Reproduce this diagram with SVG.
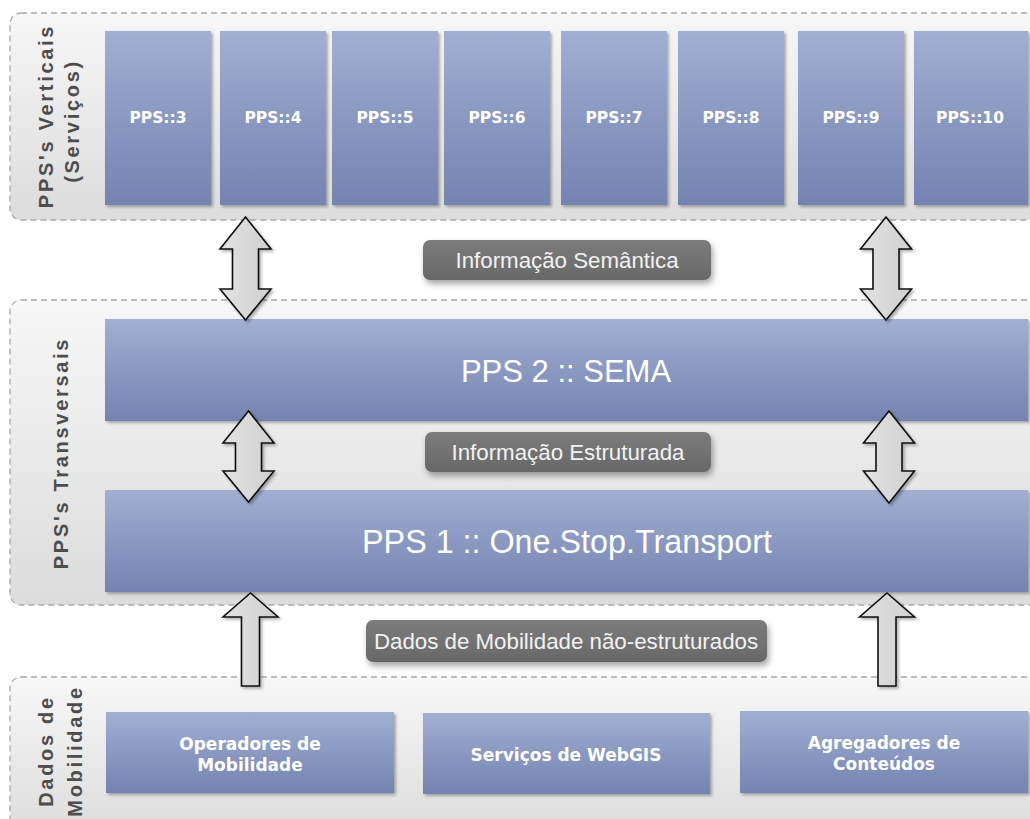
<svg xmlns="http://www.w3.org/2000/svg" width="1030" height="819" viewBox="0 0 1030 819">
  <defs>
    <linearGradient id="gBand" x1="0" y1="0" x2="0" y2="1">
      <stop offset="0" stop-color="#f7f7f7"/>
      <stop offset="1" stop-color="#dcdcdc"/>
    </linearGradient>
    <linearGradient id="gBox" x1="0" y1="0" x2="0" y2="1">
      <stop offset="0" stop-color="#a1afd3"/>
      <stop offset="1" stop-color="#7483b0"/>
    </linearGradient>
    <linearGradient id="gPill" x1="0" y1="0" x2="0" y2="1">
      <stop offset="0" stop-color="#7c7c7c"/>
      <stop offset="1" stop-color="#686868"/>
    </linearGradient>
    <linearGradient id="gArrow" x1="0" y1="0" x2="1" y2="0">
      <stop offset="0" stop-color="#e2e2e2"/>
      <stop offset="1" stop-color="#d0d0d0"/>
    </linearGradient>
    <filter id="shadow" x="-10%" y="-10%" width="130%" height="130%">
      <feDropShadow dx="2" dy="2" stdDeviation="1.5" flood-color="#000" flood-opacity="0.3"/>
    </filter>
    <filter id="pillShadow" x="-10%" y="-20%" width="130%" height="160%">
      <feDropShadow dx="2" dy="4" stdDeviation="3" flood-color="#000" flood-opacity="0.35"/>
    </filter>
  </defs>
  <style>
    .band { fill: url(#gBand); stroke: #a8a8a8; stroke-width: 1.3; stroke-dasharray: 6 4; }
    .box { fill: url(#gBox); filter: url(#shadow); }
    .pill { fill: url(#gPill); filter: url(#pillShadow); }
    .arrow { fill: url(#gArrow); stroke: #111; stroke-width: 1.6; stroke-linejoin: miter; filter: url(#shadow); }
    .bandLabel { font-family: "Liberation Sans", Arial, sans-serif; font-weight: bold; font-size: 20px; fill: #4d4d4d; letter-spacing: 2.7px; text-anchor: middle; }
    .small { font-family: "DejaVu Sans", Verdana, sans-serif; font-weight: bold; font-size: 15.5px; fill: #fff; text-anchor: middle; }
    .mid { font-family: "DejaVu Sans", Verdana, sans-serif; font-weight: bold; font-size: 17px; fill: #fff; text-anchor: middle; }
    .big { font-family: "Liberation Sans", Arial, sans-serif; font-size: 31px; fill: #fff; text-anchor: middle; }
    .pillText { font-family: "Liberation Sans", Arial, sans-serif; font-size: 22.3px; fill: #f2f2f2; text-anchor: middle; }
  </style>

  <rect width="1030" height="819" fill="#ffffff"/>

  <!-- layer bands -->
  <g id="band-verticais">
    <rect class="band" x="10" y="13" width="1040" height="207" rx="11"/>
    <text class="bandLabel" transform="translate(53,116) rotate(-90)">PPS's Verticais</text>
    <text class="bandLabel" transform="translate(79,121) rotate(-90)">(Serviços)</text>
  </g>
  <g id="band-transversais">
    <rect class="band" x="10" y="300" width="1040" height="305" rx="11"/>
    <text class="bandLabel" transform="translate(68,453) rotate(-90)">PPS's Transversais</text>
  </g>
  <g id="band-dados">
    <rect class="band" x="10" y="677" width="1040" height="160" rx="11"/>
    <text class="bandLabel" transform="translate(53,751) rotate(-90)">Dados de</text>
    <text class="bandLabel" transform="translate(82,751) rotate(-90)">Mobilidade</text>
  </g>

  <!-- vertical services -->
  <g id="pps3"><rect class="box" x="105" y="31" width="106" height="174"/><text class="small" x="158" y="123">PPS::3</text></g>
  <g id="pps4"><rect class="box" x="220" y="31" width="106" height="174"/><text class="small" x="273" y="123">PPS::4</text></g>
  <g id="pps5"><rect class="box" x="332" y="31" width="106" height="174"/><text class="small" x="385" y="123">PPS::5</text></g>
  <g id="pps6"><rect class="box" x="444" y="31" width="106" height="174"/><text class="small" x="497" y="123">PPS::6</text></g>
  <g id="pps7"><rect class="box" x="561" y="31" width="106" height="174"/><text class="small" x="614" y="123">PPS::7</text></g>
  <g id="pps8"><rect class="box" x="678" y="31" width="106" height="174"/><text class="small" x="731" y="123">PPS::8</text></g>
  <g id="pps9"><rect class="box" x="798" y="31" width="106" height="174"/><text class="small" x="851" y="123">PPS::9</text></g>
  <g id="pps10"><rect class="box" x="914" y="31" width="114" height="174"/><text class="small" x="970" y="123">PPS::10</text></g>

  <!-- transversal platforms -->
  <g id="pps2-sema"><rect class="box" x="105" y="319" width="923" height="102"/><text class="big" x="566" y="382">PPS 2 :: SEMA</text></g>
  <g id="pps1-ost"><rect class="box" x="105" y="490" width="923" height="102"/><text class="big" x="567" y="553" style="font-size:32.3px">PPS 1 :: One.Stop.Transport</text></g>

  <!-- data sources -->
  <g id="operadores"><rect class="box" x="106" y="712" width="288" height="81"/><text class="mid" x="250" y="750">Operadores de</text><text class="mid" x="250" y="771">Mobilidade</text></g>
  <g id="webgis"><rect class="box" x="423" y="713" width="287" height="81"/><text class="mid" x="566" y="761">Serviços de WebGIS</text></g>
  <g id="agregadores"><rect class="box" x="740" y="711" width="288" height="82"/><text class="mid" x="884" y="749">Agregadores de</text><text class="mid" x="884" y="770">Conteúdos</text></g>

  <!-- flow labels -->
  <g id="lbl-semantica"><rect class="pill" x="423" y="240" width="288" height="40" rx="7"/><text class="pillText" x="567" y="268">Informação Semântica</text></g>
  <g id="lbl-estruturada"><rect class="pill" x="425" y="432" width="286" height="40" rx="7"/><text class="pillText" x="568" y="460">Informação Estruturada</text></g>
  <g id="lbl-dados"><rect class="pill" x="366" y="620" width="401" height="42" rx="7"/><text class="pillText" x="566" y="649">Dados de Mobilidade não-estruturados</text></g>

  <!-- connectors -->
  <g id="connectors">
    <path class="arrow" d="M245.5,217 L271,249 L258.5,249 L258.5,289 L271,289 L245.5,320 L220,289 L232.5,289 L232.5,249 L220,249 Z"/>
    <path class="arrow" d="M886,217 L911.5,249 L899,249 L899,289 L911.5,289 L886,320 L860.5,289 L873,289 L873,249 L860.5,249 Z"/>
    <path class="arrow" d="M248.5,411 L274,443 L261.5,443 L261.5,471 L274,471 L248.5,502 L223,471 L235.5,471 L235.5,443 L223,443 Z"/>
    <path class="arrow" d="M889,411 L914.5,443 L902,443 L902,471 L914.5,471 L889,503 L863.5,471 L876,471 L876,443 L863.5,443 Z"/>
    <path class="arrow" d="M250.5,593 L278,617 L259.5,617 L259.5,686 L241.5,686 L241.5,617 L223,617 Z"/>
    <path class="arrow" d="M887,593 L914.5,617 L896,617 L896,686 L878,686 L878,617 L859.5,617 Z"/>
  </g>
</svg>
